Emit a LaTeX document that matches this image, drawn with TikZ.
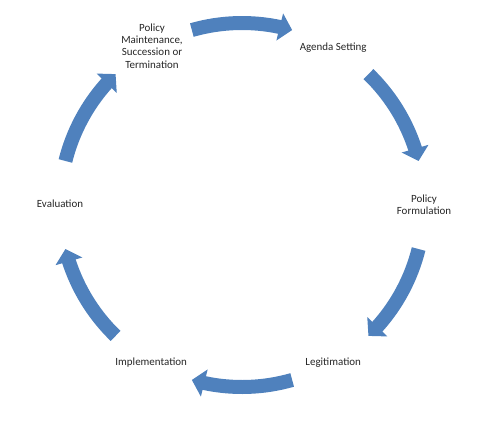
\documentclass[tikz,border=0pt]{standalone}
\usepackage{fontspec}
\setmainfont{Carlito}
\usepackage{tikz}
\usetikzlibrary{arrows.meta}
\usetikzlibrary{bending}
\definecolor{cycblue}{RGB}{79,129,189}

\tikzset{
	stage/.style={align=center, font=\fontsize{7.8}{8.7}\selectfont, text=black!85},
	cycarrow/.style={draw=cycblue, line width=0.35cm, -{Triangle[width=0.68cm,length=0.32cm]}}
}

\begin{document}
\begin{tikzpicture}
		\useasboundingbox (0,0) rectangle (12.5,10.55);
		\coordinate (c) at (6.05,5.425);
		% stages
		\node[stage] (maint) at (3.8,9.4) {Policy\\Maintenance,\\Succession or\\Termination};
		\node[stage] (agenda) at (8.33,9.37) {Agenda Setting};
		\node[stage] (formul) at (10.6,5.43) {Policy\\Formulation};
		\node[stage] (legit) at (8.33,1.48) {Legitimation};
		\node[stage] (impl) at (3.78,1.48) {Implementation};
		\node[stage] (eval) at (1.5,5.45) {Evaluation};
		% arrows round the cycle
		\draw[cycarrow] ([shift={(106:4.55)}]c) arc[start angle=106, end angle=74, radius=4.55];
		\draw[cycarrow] ([shift={(46:4.55)}]c) arc[start angle=46, end angle=14, radius=4.55];
		\draw[cycarrow] ([shift={(-14:4.55)}]c) arc[start angle=-14, end angle=-46, radius=4.55];
		\draw[cycarrow] ([shift={(-74:4.55)}]c) arc[start angle=-74, end angle=-106, radius=4.55];
		\draw[cycarrow] ([shift={(-134:4.55)}]c) arc[start angle=-134, end angle=-166, radius=4.55];
		\draw[cycarrow] ([shift={(166:4.55)}]c) arc[start angle=166, end angle=134, radius=4.55];
	\end{tikzpicture}
\end{document}
